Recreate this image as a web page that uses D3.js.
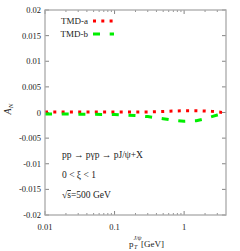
<!DOCTYPE html>
<html>
<head>
<meta charset="utf-8">
<script src="https://cdn.jsdelivr.net/npm/d3@7"></script>
<style>
body { margin: 0; background: #fff; }
text { font-family: "Liberation Serif", "DejaVu Serif", serif; fill: #222; }
</style>
</head>
<body>
<svg id="chart" width="240" height="251"></svg>
<script>
// values
var ptValues = [0.01, 0.02, 0.05, 0.1, 0.2, 0.3, 0.5, 0.7, 1, 1.5, 2, 2.5, 3, 3.5];
var tmdA = [0.0001, 0.0001, 0.0001, 0.0001, 0.0001, 0.00012, 0.0002, 0.00028, 0.00035, 0.00035, 0.0003, 0.00022, 0.00012, 0.00002];
var tmdB = [-0.0003, -0.0003, -0.00035, -0.0004, -0.0006, -0.0008, -0.0012, -0.0015, -0.0017, -0.0016, -0.0012, -0.0008, -0.0005, -0.0003];
var yTicks = [0.02, 0.015, 0.01, 0.005, 0, -0.005, -0.01, -0.015, -0.02];
var yTickLabels = ["0.02", "0.015", "0.01", "0.005", "0", "-0.005", "-0.01", "-0.015", "-0.02"];
var xTicks = [0.01, 0.1, 1];
var xTickLabels = ["0.01", "0.1", "1"];
var seriesNames = ["TMD-a", "TMD-b"];
var notes = ["pp \u2192 p\u03b3p \u2192 pJ/\u03c8+X", "0 < \u03be < 1"];

var svg = d3.select("#chart");
var plotL = 45, plotR = 226, plotT = 10, plotB = 215;

var x = d3.scaleLog().domain([0.01, 4]).range([plotL, plotR]);
var y = d3.scaleLinear().domain([-0.02, 0.02]).range([plotB, plotT]);

var minor = [];
[0.01, 0.1, 1].forEach(function (d) {
	for (var k = 2; k <= 9; k++) {
		if (d * k < 4) minor.push(d * k);
	}
});

var g = svg.append("g");

// ticks, inside, mirrored
yTicks.forEach(function (v) {
	g.append("line").attr("x1", plotL).attr("x2", plotL + 4)
		.attr("y1", y(v)).attr("y2", y(v)).style("stroke", "#666").style("stroke-width", 0.8);
	g.append("line").attr("x1", plotR).attr("x2", plotR - 4)
		.attr("y1", y(v)).attr("y2", y(v)).style("stroke", "#666").style("stroke-width", 0.8);
});
xTicks.forEach(function (v) {
	g.append("line").attr("x1", x(v)).attr("x2", x(v))
		.attr("y1", plotB).attr("y2", plotB - 4).style("stroke", "#666").style("stroke-width", 0.8);
	g.append("line").attr("x1", x(v)).attr("x2", x(v))
		.attr("y1", plotT).attr("y2", plotT + 4).style("stroke", "#666").style("stroke-width", 0.8);
});
minor.forEach(function (v) {
	g.append("line").attr("x1", x(v)).attr("x2", x(v))
		.attr("y1", plotB).attr("y2", plotB - 2).style("stroke", "#666").style("stroke-width", 0.7);
	g.append("line").attr("x1", x(v)).attr("x2", x(v))
		.attr("y1", plotT).attr("y2", plotT + 2).style("stroke", "#666").style("stroke-width", 0.7);
});

// tick labels
g.selectAll(".ylab").data(yTicks).enter().append("text")
	.attr("x", plotL - 4).attr("y", function (d) { return y(d) + 3; })
	.attr("text-anchor", "end").style("font-size", "8.5px")
	.text(function (d, i) { return yTickLabels[i]; });
g.selectAll(".xlab").data(xTicks).enter().append("text")
	.attr("x", function (d) { return x(d); }).attr("y", 230)
	.attr("text-anchor", "middle").style("font-size", "8.5px")
	.text(function (d, i) { return xTickLabels[i]; });

// curves
var line = d3.line()
	.x(function (d) { return x(d[0]); })
	.y(function (d) { return y(d[1]); });

g.append("path").datum(d3.zip(ptValues, tmdA)).attr("d", line)
	.style("fill", "none").style("stroke", "#ff0000").style("stroke-width", 3)
	.style("stroke-dasharray", "3,5.3");
g.append("path").datum(d3.zip(ptValues, tmdB)).attr("d", line)
	.style("fill", "none").style("stroke", "#00ee00").style("stroke-width", 3)
	.style("stroke-dasharray", "7,9.7");

// frame
g.append("rect").attr("x", plotL).attr("y", plotT)
	.attr("width", plotR - plotL).attr("height", plotB - plotT)
	.style("fill", "none").style("stroke", "#aaa").style("stroke-width", 1.3);

// legend
var legColors = ["#ff0000", "#00ee00"];
var legDash = ["3,5.3", "7,9.7"];
seriesNames.forEach(function (name, i) {
	var ly = 21 + i * 13;
	g.append("text").attr("x", 88).attr("y", ly + 3).attr("text-anchor", "end")
		.style("font-size", "9px").text(name);
	g.append("line").attr("x1", 93).attr("x2", 114).attr("y1", ly).attr("y2", ly)
		.style("stroke", legColors[i]).style("stroke-width", 3)
		.style("stroke-dasharray", legDash[i]);
});

// notes
notes.forEach(function (t, i) {
	g.append("text").attr("x", 62).attr("y", 158 + i * 20)
		.style("font-size", "9.5px").text(t);
});
var sq = g.append("text").attr("x", 62).attr("y", 198).style("font-size", "9.5px");
sq.append("tspan").text("\u221a");
sq.append("tspan").style("text-decoration", "overline").text("s");
sq.append("tspan").text("=500 GeV");

// axis titles
var yt = g.append("text").attr("transform", "translate(11,109) rotate(-90)")
	.attr("text-anchor", "middle").style("font-size", "10px").style("font-style", "italic");
yt.append("tspan").text("A");
yt.append("tspan").attr("dy", 2).style("font-size", "7px").text("N");

var xt = g.append("text").attr("x", 129).attr("y", 247).style("font-size", "9px");
xt.append("tspan").text("p");
xt.append("tspan").attr("dy", -7).style("font-size", "6px").style("font-style", "italic").text("J/\u03c8");
xt.append("tspan").attr("x", 134).attr("dy", 9).style("font-size", "6px").style("font-style", "italic").text("T");
xt.append("tspan").attr("x", 141).attr("dy", -2).text("[GeV]");
</script>
</body>
</html>
